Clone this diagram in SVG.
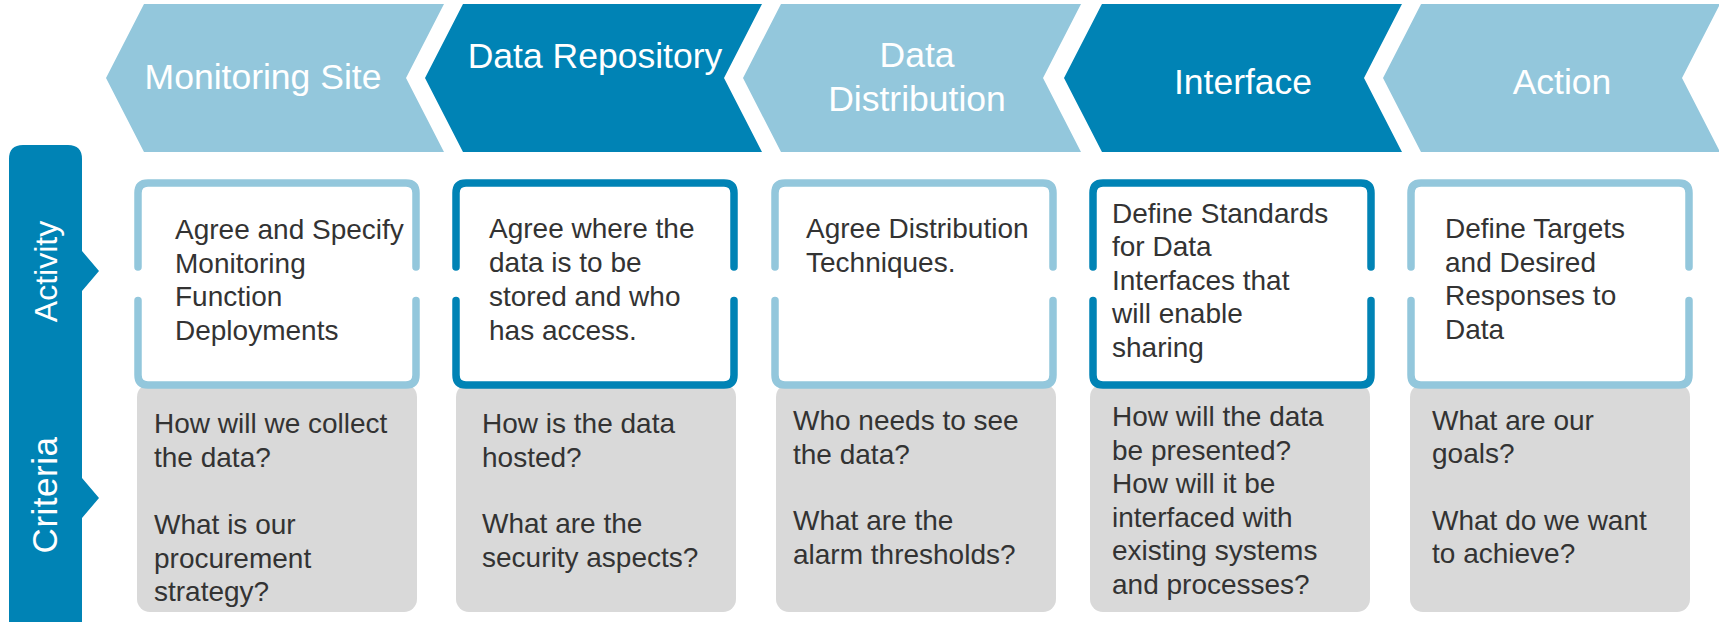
<svg xmlns="http://www.w3.org/2000/svg" width="1719" height="622" viewBox="0 0 1719 622">
<style>
.light{fill:#93C7DC}
.dark{fill:#0083B5}
.head{font-family:"Liberation Sans",Arial,sans-serif;font-size:35.5px;fill:#FFFFFF;text-anchor:middle}
.side{font-family:"Liberation Sans",Arial,sans-serif;fill:#FFFFFF;text-anchor:middle}
.body{font-family:"Liberation Sans",Arial,sans-serif;font-size:28px;fill:#333333}
.ol{fill:none;stroke-width:7.5;stroke-linecap:round;stroke-linejoin:round}
.ol-light{stroke:#93C7DC}
.ol-dark{stroke:#0083B5}
.grey{fill:#D9D9D9}
</style>
<rect width="1719" height="622" fill="#FFFFFF"/>

<!-- Header chevrons -->
<g id="chevron-monitoring-site">
<polygon class="light" points="106,78 144,4 444,4 406,78 444,152 144,152"/>
<text class="head" x="263" y="89">Monitoring Site</text>
</g>
<g id="chevron-data-repository">
<polygon class="dark" points="425,78 463,4 762,4 724,78 762,152 463,152"/>
<text class="head" x="595" y="68">Data Repository</text>
</g>
<g id="chevron-data-distribution">
<polygon class="light" points="743,78 781,4 1081,4 1043,78 1081,152 781,152"/>
<text class="head" x="917" y="67">Data</text>
<text class="head" x="917" y="111">Distribution</text>
</g>
<g id="chevron-interface">
<polygon class="dark" points="1064,78 1102,4 1402,4 1364,78 1402,152 1102,152"/>
<text class="head" x="1243" y="94">Interface</text>
</g>
<g id="chevron-action">
<polygon class="light" points="1383,78 1421,4 1720,4 1682,78 1720,152 1421,152"/>
<text class="head" x="1562" y="94">Action</text>
</g>

<!-- Left side bar -->
<g id="side-bar">
<path class="dark" d="M9,159 Q9,145 23,145 L68,145 Q82,145 82,159 L82,251 L99,271 L82,291 L82,478 L99,498 L82,518 L82,640 L9,640 Z"/>
<text class="side" font-size="32" transform="translate(57,271.5) rotate(-90)">Activity</text>
<text class="side" font-size="35" letter-spacing="0.5" transform="translate(57,495) rotate(-90)">Criteria</text>
</g>

<!-- Criteria boxes (grey) -->
<g id="criteria-1">
<rect class="grey" x="137" y="384" width="280" height="228" rx="13"/>
<text class="body" x="154"><tspan x="154" y="433">How will we collect</tspan><tspan x="154" y="467">the data?</tspan><tspan x="154" y="534">What is our</tspan><tspan x="154" y="568">procurement</tspan><tspan x="154" y="601">strategy?</tspan></text>
</g>
<g id="criteria-2">
<rect class="grey" x="456" y="384" width="280" height="228" rx="13"/>
<text class="body"><tspan x="482" y="433">How is the data</tspan><tspan x="482" y="467">hosted?</tspan><tspan x="482" y="533">What are the</tspan><tspan x="482" y="567">security aspects?</tspan></text>
</g>
<g id="criteria-3">
<rect class="grey" x="776" y="384" width="280" height="228" rx="13"/>
<text class="body"><tspan x="793" y="430">Who needs to see</tspan><tspan x="793" y="464">the data?</tspan><tspan x="793" y="530">What are the</tspan><tspan x="793" y="564">alarm thresholds?</tspan></text>
</g>
<g id="criteria-4">
<rect class="grey" x="1090" y="384" width="280" height="228" rx="13"/>
<text class="body"><tspan x="1112" y="426">How will the data</tspan><tspan x="1112" y="459.5">be presented?</tspan><tspan x="1112" y="493">How will it be</tspan><tspan x="1112" y="526.5">interfaced with</tspan><tspan x="1112" y="560">existing systems</tspan><tspan x="1112" y="593.5">and processes?</tspan></text>
</g>
<g id="criteria-5">
<rect class="grey" x="1410" y="384" width="280" height="228" rx="13"/>
<text class="body"><tspan x="1432" y="430">What are our</tspan><tspan x="1432" y="463">goals?</tspan><tspan x="1432" y="530">What do we want</tspan><tspan x="1432" y="563">to achieve?</tspan></text>
</g>

<!-- Activity boxes -->
<g id="activity-1">
<rect x="138" y="183" width="278" height="202" rx="10" fill="#FFFFFF"/>
<path class="ol ol-light" d="M138,267 L138,193 Q138,183 148,183 L406,183 Q416,183 416,193 L416,267"/>
<path class="ol ol-light" d="M138,300.5 L138,375 Q138,385 148,385 L406,385 Q416,385 416,375 L416,300.5"/>
<text class="body"><tspan x="175" y="239">Agree and Specify</tspan><tspan x="175" y="272.6">Monitoring</tspan><tspan x="175" y="306.2">Function</tspan><tspan x="175" y="339.8">Deployments</tspan></text>
</g>
<g id="activity-2">
<rect x="456" y="183" width="278" height="202" rx="10" fill="#FFFFFF"/>
<path class="ol ol-dark" d="M456,267 L456,193 Q456,183 466,183 L724,183 Q734,183 734,193 L734,267"/>
<path class="ol ol-dark" d="M456,300.5 L456,375 Q456,385 466,385 L724,385 Q734,385 734,375 L734,300.5"/>
<text class="body"><tspan x="489" y="238">Agree where the</tspan><tspan x="489" y="272">data is to be</tspan><tspan x="489" y="306">stored and who</tspan><tspan x="489" y="340">has access.</tspan></text>
</g>
<g id="activity-3">
<rect x="775" y="183" width="278" height="202" rx="10" fill="#FFFFFF"/>
<path class="ol ol-light" d="M775,267 L775,193 Q775,183 785,183 L1043,183 Q1053,183 1053,193 L1053,267"/>
<path class="ol ol-light" d="M775,300.5 L775,375 Q775,385 785,385 L1043,385 Q1053,385 1053,375 L1053,300.5"/>
<text class="body"><tspan x="806" y="238">Agree Distribution</tspan><tspan x="806" y="272">Techniques.</tspan></text>
</g>
<g id="activity-4">
<rect x="1093" y="183" width="278" height="202" rx="10" fill="#FFFFFF"/>
<path class="ol ol-dark" d="M1093,267 L1093,193 Q1093,183 1103,183 L1361,183 Q1371,183 1371,193 L1371,267"/>
<path class="ol ol-dark" d="M1093,300.5 L1093,375 Q1093,385 1103,385 L1361,385 Q1371,385 1371,375 L1371,300.5"/>
<text class="body"><tspan x="1112" y="223">Define Standards</tspan><tspan x="1112" y="256.4">for Data</tspan><tspan x="1112" y="289.8">Interfaces that</tspan><tspan x="1112" y="323.2">will enable</tspan><tspan x="1112" y="356.6">sharing</tspan></text>
</g>
<g id="activity-5">
<rect x="1411" y="183" width="278" height="202" rx="10" fill="#FFFFFF"/>
<path class="ol ol-light" d="M1411,267 L1411,193 Q1411,183 1421,183 L1679,183 Q1689,183 1689,193 L1689,267"/>
<path class="ol ol-light" d="M1411,300.5 L1411,375 Q1411,385 1421,385 L1679,385 Q1689,385 1689,375 L1689,300.5"/>
<text class="body"><tspan x="1445" y="238">Define Targets</tspan><tspan x="1445" y="271.5">and Desired</tspan><tspan x="1445" y="305">Responses to</tspan><tspan x="1445" y="338.5">Data</tspan></text>
</g>

<g id="connectors"></g>
</svg>
